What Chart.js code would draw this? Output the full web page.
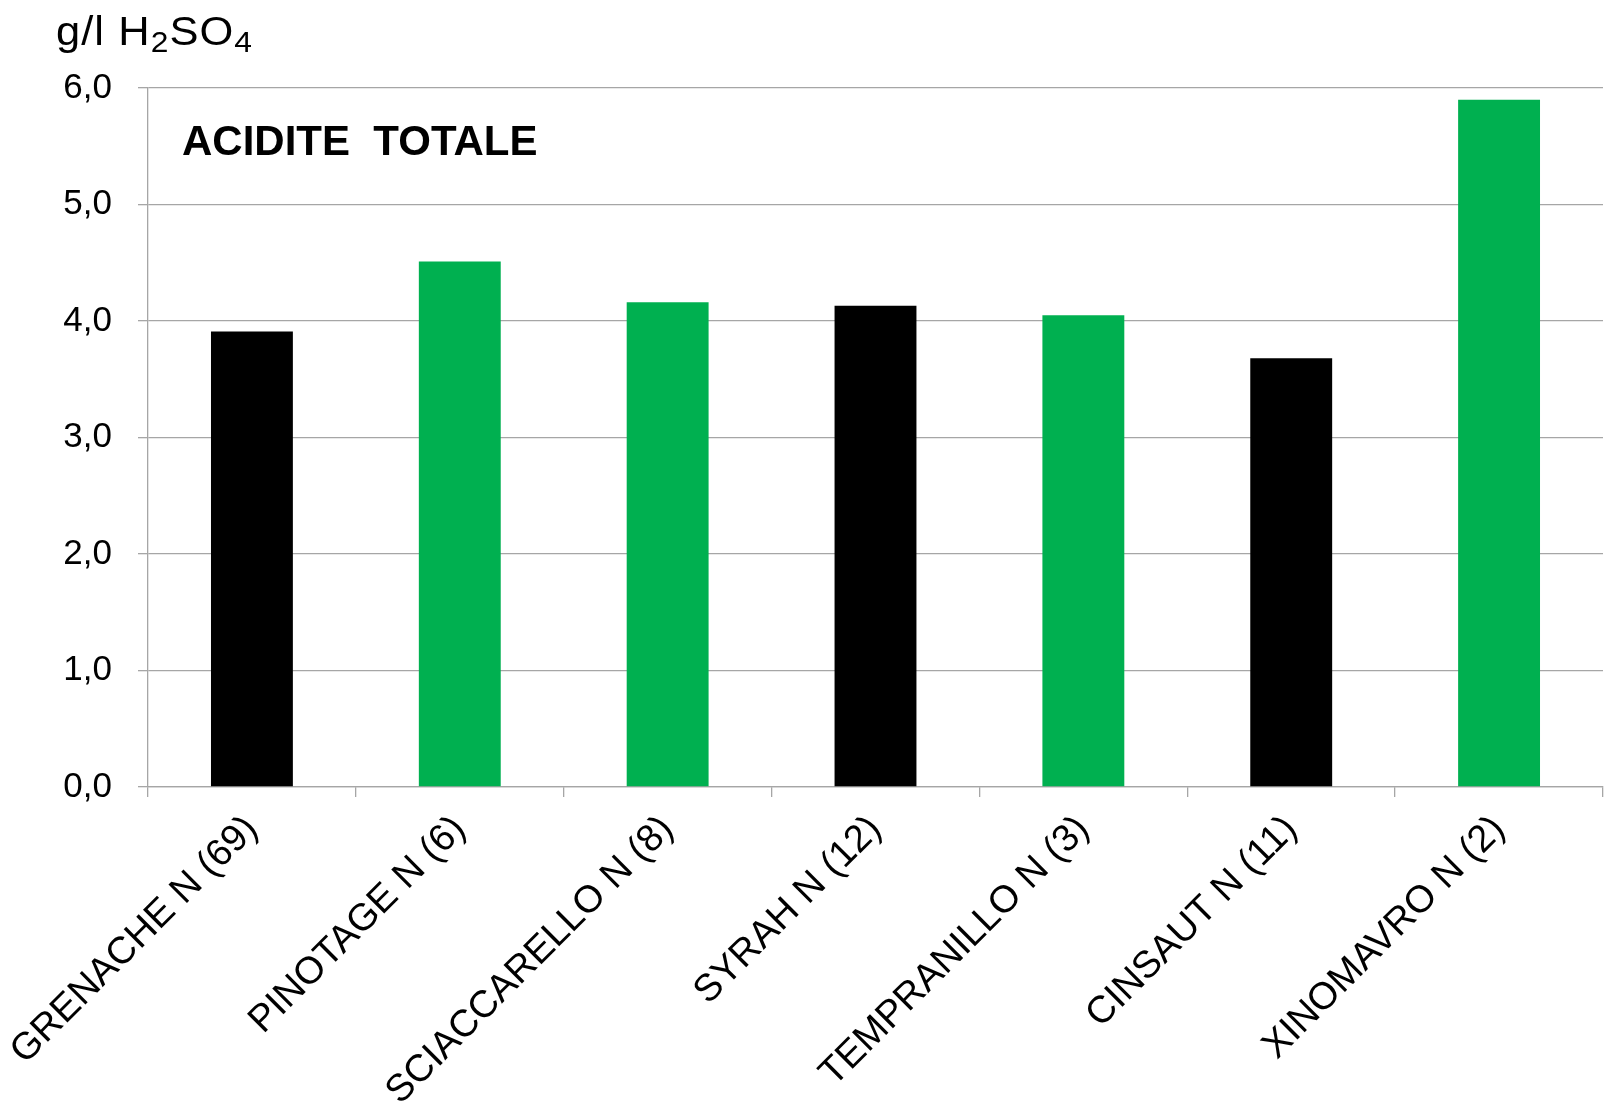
<!DOCTYPE html>
<html>
<head>
<meta charset="utf-8">
<script src="https://cdn.jsdelivr.net/npm/chart.js@4/dist/chart.umd.min.js"></script>
<style>
  html, body { margin: 0; padding: 0; background: #fff; }
  #wrap { width: 1607px; height: 1102px; }
</style>
</head>
<body>
<div id="wrap"><canvas id="chart" width="1607" height="1102"></canvas></div>
<script>
// data
const categories = [
  "GRENACHE N (69)",
  "PINOTAGE N (6)",
  "SCIACCARELLO N (8)",
  "SYRAH N (12)",
  "TEMPRANILLO N (3)",
  "CINSAUT N (11)",
  "XINOMAVRO N (2)"
];
const acidity = [3.91, 4.51, 4.16, 4.13, 4.05, 3.68, 5.90];
const yTicks = [0, 1, 2, 3, 4, 5, 6];
const chartTitle = "ACIDITE  TOTALE";

const BLACK = "#000000";
const GREEN = "#00b050";
const GRID = "#a6a6a6";
const FONT = "'Liberation Sans', Arial, sans-serif";
const barColors = [BLACK, GREEN, GREEN, BLACK, GREEN, BLACK, GREEN];

// unit label "g/l H2SO4" with subscripts + title inside the plot
const labelsPlugin = {
  id: "labels",
  afterDraw(chart) {
    const ctx = chart.ctx;
    ctx.save();
    ctx.fillStyle = "#000";
    ctx.textBaseline = "alphabetic";
    ctx.textAlign = "left";

    // the original unit label is a bit stretched sideways
    ctx.save();
    ctx.translate(56, 0);
    ctx.scale(1.06, 1);
    ctx.letterSpacing = "1px";
    let x = 0;
    const parts = [["g/l H", 41, 45], ["2", 30, 52], ["SO", 41, 45], ["4", 30, 52]];
    parts.forEach(([txt, size, base]) => {
      ctx.font = size + "px " + FONT;
      ctx.fillText(txt, x, base);
      x += ctx.measureText(txt).width;
    });
    ctx.restore();

    ctx.font = "bold 42px " + FONT;
    ctx.fillText(chartTitle, chart.chartArea.left + 34, 155);
    ctx.restore();
  }
};

new Chart(document.getElementById("chart"), {
  type: "bar",
  data: {
    labels: categories,
    datasets: [{
      data: acidity,
      backgroundColor: barColors,
      borderWidth: 0,
      barPercentage: 0.394,
      categoryPercentage: 1.0
    }]
  },
  options: {
    responsive: false,
    animation: false,
    layout: { padding: { top: 88, right: 4, left: 0, bottom: 0 } },
    plugins: {
      legend: { display: false },
      tooltip: { enabled: false }
    },
    scales: {
      x: {
        grid: {
          offset: true,
          drawOnChartArea: false,
          drawTicks: true,
          tickLength: 10,
          color: GRID,
          lineWidth: 1.3
        },
        border: { display: true, color: GRID, width: 1.3 },
        ticks: {
          autoSkip: false,
          maxRotation: 45,
          minRotation: 45,
          color: "#000",
          padding: 10,
          font: { family: FONT, size: 38 }
        },
        afterFit(scale) {
          scale.height = 315;
          scale.paddingLeft = 0;
          scale.paddingRight = 0;
        }
      },
      y: {
        min: 0,
        max: 6,
        afterBuildTicks(scale) { scale.ticks = yTicks.map(v => ({ value: v })); },
        grid: {
          drawTicks: true,
          tickLength: 10,
          color: GRID,
          lineWidth: 1.3
        },
        border: { display: true, color: GRID, width: 1.3 },
        ticks: {
          color: "#000",
          padding: 26,
          font: { family: FONT, size: 35 },
          callback: v => Number(v).toFixed(1).replace(".", ",")
        },
        afterFit(scale) { scale.width = 148; }
      }
    }
  },
  plugins: [labelsPlugin]
});
</script>
</body>
</html>
